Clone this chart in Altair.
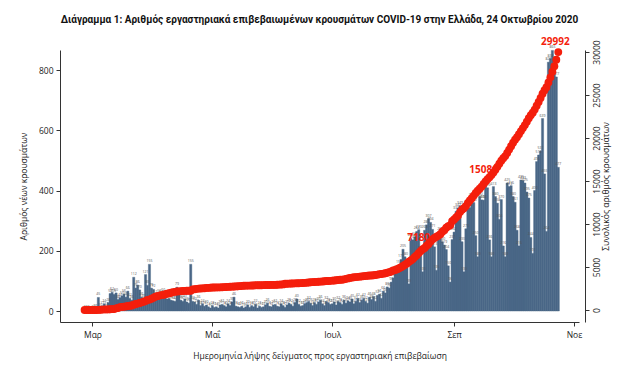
import altair as alt
import pandas as pd

# ---- daily new cases by sampling date (left axis) ----
feb_new = [2, 3, 3, 0]
mar_new = [3, 8, 6, 45, 10, 17, 24, 12, 28, 58, 62, 55, 60, 38, 44, 50, 56, 46, 66, 42,
           36, 112, 76, 86, 70, 46, 40, 121, 85, 155, 76]
apr_new = [72, 52, 48, 56, 54, 60, 50, 40, 42, 36, 34, 32, 79, 58, 36, 32, 40, 30, 26, 155,
           32, 30, 22, 36, 18, 24, 16, 20, 14, 10]
may_new = [18, 12, 14, 10, 20, 22, 18, 14, 24, 18, 30, 46, 16, 14, 12, 16, 10, 14, 20, 12,
           18, 14, 22, 10, 16, 12, 14, 20, 26, 16, 14]
jun_new = [20, 22, 16, 14, 24, 18, 12, 20, 26, 22, 16, 28, 40, 22, 16, 18, 24, 28, 32, 26,
           18, 28, 22, 30, 36, 24, 18, 32, 28, 22]
jul_new = [24, 30, 20, 32, 28, 22, 36, 26, 34, 30, 40, 24, 32, 42, 28, 36, 42, 32, 26, 46,
           38, 48, 32, 52, 56, 42, 66, 60, 80, 76, 96]
aug_new = [110, 126, 136, 152, 171, 205, 180, 150, 90, 241, 236, 246, 264, 270, 200, 130,
           268, 286, 307, 294, 271, 213, 135, 237, 262, 230, 219, 204, 150, 96, 237]
sep_new = [262, 331, 342, 349, 230, 130, 273, 344, 343, 375, 360, 250, 180, 380, 369, 368,
           417, 409, 236, 180, 413, 380, 358, 304, 370, 216, 180, 425, 413, 416]
oct_new = [380, 361, 268, 216, 435, 433, 425, 395, 375, 244, 191, 400, 496, 518, 531, 639,
           455, 264, 826, 838, 865, 800, 777, 477]

# ---- cumulative cases (right axis) ----
feb_cum = [1, 3, 4, 7]
mar_cum = [7, 7, 7, 9, 31, 45, 66, 73, 73, 89, 99, 117, 190, 228, 331, 352, 387, 418, 464,
           495, 530, 624, 695, 743, 821, 892, 966, 1061, 1156, 1212, 1314]
apr_cum = [1415, 1544, 1613, 1673, 1735, 1755, 1832, 1884, 1955, 2011, 2081, 2114, 2145,
           2170, 2192, 2207, 2224, 2235, 2235, 2245, 2401, 2408, 2463, 2490, 2506, 2517,
           2534, 2566, 2576, 2591]
may_cum = [2612, 2620, 2625, 2626, 2632, 2642, 2663, 2678, 2691, 2710, 2716, 2726, 2744,
           2760, 2770, 2810, 2819, 2834, 2836, 2840, 2850, 2853, 2873, 2876, 2878, 2882,
           2892, 2903, 2906, 2909, 2915]
jun_cum = [2917, 2918, 2937, 2952, 2967, 2980, 3049, 3058, 3060, 3083, 3088, 3102, 3108,
           3112, 3121, 3134, 3148, 3178, 3203, 3227, 3237, 3256, 3266, 3287, 3302, 3310,
           3343, 3366, 3376, 3390]
jul_cum = [3409, 3432, 3458, 3486, 3511, 3519, 3562, 3622, 3672, 3732, 3772, 3803, 3826,
           3854, 3879, 3910, 3939, 3964, 3983, 4007, 4012, 4048, 4077, 4110, 4166, 4193,
           4227, 4279, 4336, 4401, 4477]
aug_cum = [4587, 4662, 4737, 4855, 4976, 5123, 5270, 5421, 5623, 5749, 5942, 6177, 6381,
           6632, 6858, 7075, 7222, 7472, 7684, 7953, 8218, 8381, 8530, 8649, 8819, 9113,
           9280, 9558, 9741, 9843, 10317]
sep_cum = [10524, 10757, 10998, 11386, 11663, 11832, 12080, 12452, 12734, 13005, 13300,
           13600, 13880, 14100, 14350, 14650, 14950, 15200, 15450, 15700, 16000, 16300,
           16650, 17000, 17350, 17650, 17900, 18250, 18650, 19050]
oct_cum = [19450, 19800, 20100, 20450, 20800, 21150, 21500, 21900, 22300, 22650, 22950,
           23300, 23750, 24200, 24650, 25150, 25550, 25900, 26450, 27050, 27700, 28350,
           29100, 29992]

# ---- annotations on the cumulative curve ----
note_dates = ["2020-08-14T00:00:00", "2020-09-16T00:00:00", "2020-10-22T12:00:00"]
note_values = [7180, 15080, 29992]
note_texts = ["7180", "15080", "29992"]

# ---- axis labels ----
month_names = ["Ιαν", "Φεβ", "Μαρ", "Απρ", "Μαΐ", "Ιουν", "Ιουλ", "Αυγ", "Σεπ", "Οκτ", "Νοε", "Δεκ"]
left_ticks = [0, 200, 400, 600, 800]
right_ticks = [0, 5000, 10000, 15000, 20000, 25000, 30000]

new_cases = feb_new + mar_new + apr_new + may_new + jun_new + jul_new + aug_new + sep_new + oct_new
cum_cases = feb_cum + mar_cum + apr_cum + may_cum + jun_cum + jul_cum + aug_cum + sep_cum + oct_cum
dates = pd.date_range("2020-02-26", "2020-10-24", freq="D").strftime("%Y-%m-%dT00:00:00")

df = pd.DataFrame({"date": list(dates), "new": new_cases, "cum": cum_cases})
notes = pd.DataFrame({"date": note_dates, "cum": note_values, "label": note_texts})

BAR = "#4a6787"
RED = "#f41e0c"
FONT = "Open Sans"

label_expr = "[" + ",".join("'%s'" % m for m in month_names) + "][month(datum.value)]"

x_enc = alt.X(
    "date:T",
    scale=alt.Scale(domain=[alt.DateTime(year=2020, month=2, date=16, hours=0, minutes=43),
                            alt.DateTime(year=2020, month=11, date=1)]),
    axis=alt.Axis(
        values=[alt.DateTime(year=2020, month=m, date=1) for m in (3, 5, 7, 9, 11)],
        labelExpr=label_expr, grid=False, tickSize=4, labelPadding=4, titlePadding=13,
    ),
    title="Ημερομηνία λήψης δείγματος προς εργαστηριακή επιβεβαίωση",
)

y_left = alt.Y(
    "new:Q",
    scale=alt.Scale(domain=[-36.5, 866.4], nice=False, zero=False),
    axis=alt.Axis(values=left_ticks, grid=False, tickSize=4, labelPadding=3, titlePadding=10,
                  orient="left"),
    title="Αριθμός νέων κρουσμάτων",
)

y_right = alt.Y(
    "cum:Q",
    scale=alt.Scale(domain=[-1395, 30233], nice=False, zero=False),
    axis=alt.Axis(values=right_ticks, grid=False, tickSize=4, orient="right", offset=6,
                  labelAngle=270, labelPadding=3, titleAngle=270, titlePadding=10,
                  format="d"),
    title="Συνολικός αριθμός κρουσμάτων",
)

base = alt.Chart(df)
bars = base.mark_bar(color=BAR, width=2.2, stroke=BAR, strokeWidth=0.4).encode(
    x=x_enc, y=y_left, y2=alt.datum(0))
bar_labels = base.mark_text(fontSize=3.5, color="#555", baseline="bottom", dy=-1, font=FONT).encode(
    x=x_enc, y=y_left, text="new:Q")
left = alt.layer(bars, bar_labels)

points = base.mark_circle(size=62, color=RED, opacity=1).encode(x=x_enc, y=y_right)
point_labels = alt.Chart(notes).mark_text(
    color=RED, fontSize=10, fontWeight="bold", font=FONT, baseline="middle", align="center", dy=-10
).encode(x=x_enc, y=y_right, text="label:N")
right = alt.layer(point_labels, points)

chart = alt.layer(left, right).resolve_scale(y="independent").properties(
    width=519, height=272,
    autosize=alt.AutoSizeParams(type="none"),
    padding={"left": 52, "top": 42, "right": 47, "bottom": 42},
    title=alt.TitleParams(
        "Διάγραμμα 1: Αριθμός εργαστηριακά επιβεβαιωμένων κρουσμάτων COVID-19 στην Ελλάδα, 24 Οκτωβρίου 2020",
        font="Roboto", fontSize=10, fontWeight="bold", color="#111",
        anchor="middle", frame="group", offset=12,
    ),
).configure_axis(
    domainColor="#333", tickColor="#333", labelColor="#222", titleColor="#222",
    labelFont=FONT, titleFont=FONT, labelFontSize=8.5, titleFontSize=8.5,
    titleFontWeight="normal",
).configure_view(stroke=None)

chart.save("out.html", embed_options={"renderer": "svg", "actions": False})
